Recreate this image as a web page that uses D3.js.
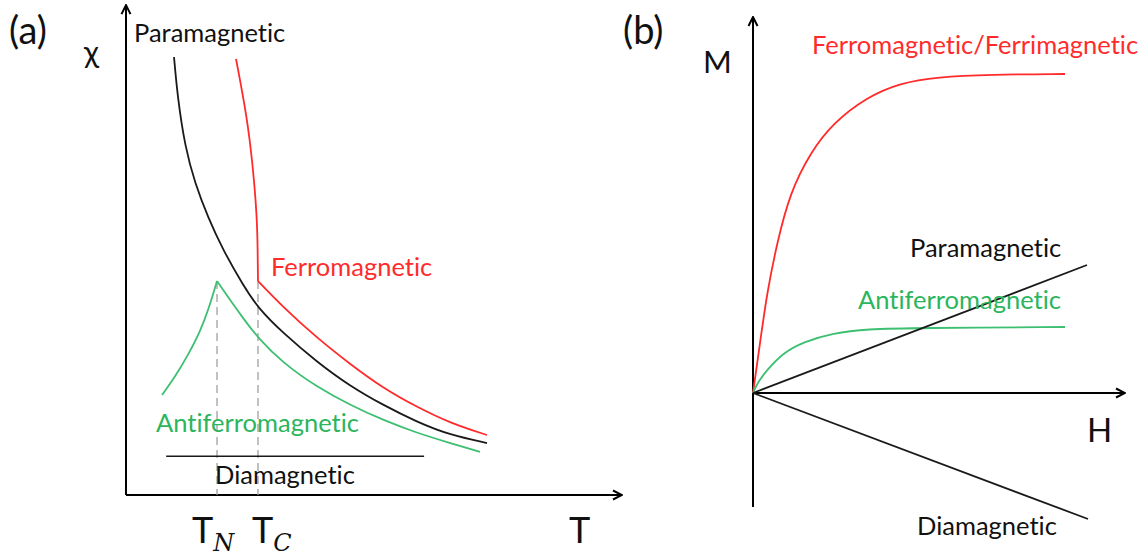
<!DOCTYPE html>
<html>
<head>
<meta charset="utf-8">
<script src="https://cdn.jsdelivr.net/npm/d3@7"></script>
<style>
  body { margin: 0; background: #fff; }
  svg text { font-family: Lato, "Open Sans", sans-serif; font-variant-ligatures: none; }
</style>
</head>
<body>
<div id="chart_div"></div>
<script>
// ---- panel (a): susceptibility vs temperature (arbitrary units 0..10) ----
var para_a = [[0.968,9.031],[1.040,8.206],[1.190,7.175],[1.390,6.433],[1.650,5.732],[1.956,5.052],[2.359,4.330],[2.661,3.856],[3.165,3.340],[3.851,2.742],[4.516,2.247],[5.181,1.856],[5.867,1.505],[6.532,1.237],[7.278,1.072]];
var ferro_a_top = [[2.218,8.990],[2.440,7.794],[2.560,6.763],[2.641,5.732],[2.655,5.052],[2.661,4.412]];
var ferro_a = [[2.661,4.412],[3.165,3.876],[3.851,3.237],[4.516,2.701],[5.181,2.206],[5.867,1.814],[6.532,1.485],[7.278,1.237]];
var antiferro_a_rise = [[0.726,2.062],[0.988,2.433],[1.250,2.887],[1.492,3.361],[1.673,3.856],[1.835,4.412]];
var antiferro_a = [[1.835,4.412],[2.097,4.021],[2.359,3.649],[2.661,3.237],[3.165,2.722],[3.851,2.227],[4.516,1.856],[5.181,1.546],[5.867,1.278],[6.532,1.072],[7.137,0.887]];
var dia_a = [[0.81,0.80],[6.01,0.80]];
var t_marks = [1.835, 2.661];         // T_N, T_C
var t_peaks = [4.412, 4.412];         // top of the dashed guide lines

// ---- panel (b): magnetisation vs field ----
var ferro_b = [[0,0],[0.186,1.282],[0.371,2.564],[0.637,3.846],[0.981,5.128],[1.512,6.154],[2.122,6.923],[3.024,7.590],[3.899,7.949],[4.881,8.103],[6.286,8.167],[8.276,8.179]];
var antiferro_b = [[0,0],[0.133,0.282],[0.371,0.590],[0.796,1.026],[1.326,1.308],[2.122,1.538],[3.024,1.641],[4.350,1.667],[8.276,1.692]];
var para_b = [[0,0],[8.859,3.282]];
var dia_b = [[0,0],[8.886,-3.231]];

var width = 1146, height = 558;

var svg = d3.select("#chart_div").append("svg")
    .attr("width", width)
    .attr("height", height);

svg.append("defs").append("marker")
    .attr("id", "arrow")
    .attr("viewBox", "0 0 12 12")
    .attr("refX", 11).attr("refY", 6)
    .attr("markerWidth", 12).attr("markerHeight", 12)
    .attr("markerUnits", "userSpaceOnUse")
    .attr("orient", "auto")
    .append("path")
    .attr("d", "M2,1.5 L11,6 L2,10.5")
    .attr("fill", "none")
    .attr("stroke", "#000")
    .attr("stroke-width", 2);

var red = "#ff2b2b", green = "#3dbf72", black = "#1a1a1a";
var font_size = 25.5;

// scales for (a)
var xa = d3.scaleLinear().domain([0, 10]).range([126, 622]);
var ya = d3.scaleLinear().domain([0, 10]).range([495, 10]);
// scales for (b)
var xb = d3.scaleLinear().domain([0, 10]).range([753, 1130]);
var yb = d3.scaleLinear().domain([-4, 10]).range([549, 3]);

function draw_line(scale_x, scale_y, data, colour, sw, curve) {
    var line = d3.line()
        .x(function(d) { return scale_x(d[0]); })
        .y(function(d) { return scale_y(d[1]); })
        .curve(curve || d3.curveLinear);
    svg.append("path")
        .attr("d", line(data))
        .attr("fill", "none")
        .attr("stroke", colour)
        .attr("stroke-width", sw);
}

function draw_axis(x1, y1, x2, y2) {
    svg.append("line")
        .attr("x1", x1).attr("y1", y1)
        .attr("x2", x2).attr("y2", y2)
        .attr("stroke", "#000").attr("stroke-width", 2)
        .attr("marker-end", "url(#arrow)");
}

function label(x, y, txt, colour, size) {
    return svg.append("text")
        .attr("x", x).attr("y", y)
        .attr("fill", colour)
        .attr("font-size", size)
        .text(txt);
}

// ---------- panel (a) ----------
draw_axis(xa(0), ya(0), xa(0), ya(10.1));
draw_axis(xa(0), ya(0), xa(10), ya(0));

// dashed guides at T_N and T_C
t_marks.forEach(function(t, i) {
    svg.append("line")
        .attr("x1", xa(t)).attr("y1", ya(t_peaks[i]))
        .attr("x2", xa(t)).attr("y2", ya(0))
        .attr("stroke", "#a0a0a0")
        .attr("stroke-width", 1.3)
        .attr("stroke-dasharray", "8,5");
});

draw_line(xa, ya, para_a, black, 1.8, d3.curveBasis);
draw_line(xa, ya, ferro_a_top, red, 1.8, d3.curveBasis);
draw_line(xa, ya, ferro_a, red, 1.8, d3.curveBasis);
draw_line(xa, ya, antiferro_a_rise, green, 1.8, d3.curveBasis);
draw_line(xa, ya, antiferro_a, green, 1.8, d3.curveBasis);
draw_line(xa, ya, dia_a, black, 1.6);

label(9, 44, "(a)", "#111", 38);
label(84, 63, "χ", "#111", 31);
label(134, 42, "Paramagnetic", "#111", font_size);
label(271, 276, "Ferromagnetic", red, font_size);
label(156, 432, "Antiferromagnetic", "#2bb55d", font_size);
label(215, 484, "Diamagnetic", "#111", font_size);

// T_N, T_C and T
var tn = label(192, 543, "T", "#111", 36);
tn.append("tspan").attr("font-family", "'DejaVu Serif', serif").attr("font-style", "italic")
    .attr("font-size", 24).attr("dy", 8).text("N");
var tc = label(252, 543, "T", "#111", 36);
tc.append("tspan").attr("font-family", "'DejaVu Serif', serif").attr("font-style", "italic")
    .attr("font-size", 24).attr("dy", 8).text("C");
label(569, 543, "T", "#111", 36);

// ---------- panel (b) ----------
draw_axis(xb(0), yb(-2.923), xb(0), yb(9.641));
draw_axis(xb(0), yb(0), xb(9.867), yb(0));

draw_line(xb, yb, ferro_b, red, 1.8, d3.curveBasis);
draw_line(xb, yb, antiferro_b, green, 1.8, d3.curveBasis);
draw_line(xb, yb, para_b, black, 1.8);
draw_line(xb, yb, dia_b, black, 1.8);

label(623, 44, "(b)", "#111", 38);
label(703, 73, "M", "#111", 31);
label(1087, 442, "H", "#111", 33);
label(812, 54, "Ferromagnetic/Ferrimagnetic", red, font_size);
label(910, 257, "Paramagnetic", "#111", font_size);
label(858, 309, "Antiferromagnetic", "#2bb55d", font_size);
label(917, 535, "Diamagnetic", "#111", font_size);
</script>
</body>
</html>
